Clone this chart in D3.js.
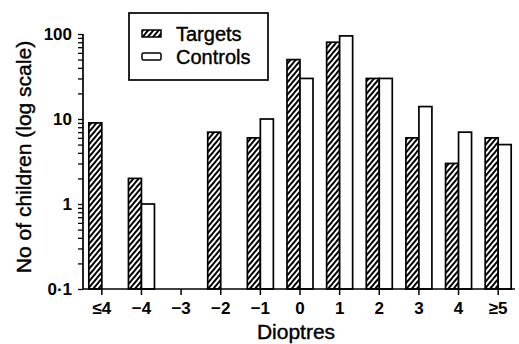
<!DOCTYPE html>
<html>
<head>
<meta charset="utf-8">
<script src="https://cdn.jsdelivr.net/npm/d3@7"></script>
<style>
  body { margin: 0; background: #fff; }
  svg { display: block; font-family: "Liberation Sans", Arial, Helvetica, sans-serif; }
</style>
</head>
<body>
<svg id="chart" width="519" height="344"></svg>
<script>
// refraction groups (dioptres)
var categories = ["≤4", "−4", "−3", "−2", "−1", "0", "1", "2", "3", "4", "≥5"];
var series = ["Targets", "Controls"];
// null = no bar drawn
var targets  = [9, 2, null, 7, 6, 50, 80, 30, 6, 3, 6];
var controls = [null, 1, null, null, 10, 30, 95, 30, 14, 7, 5];
var yMajor = [0.1, 1, 10, 100];
var yMajorLabels = ["0·1", "1", "10", "100"];

var svg = d3.select("#chart");

// hatch for targets
var defs = svg.append("defs");
defs.append("pattern")
    .attr("id", "hatch")
    .attr("patternUnits", "userSpaceOnUse")
    .attr("width", 4).attr("height", 4)
    .attr("patternTransform", "rotate(40)")
  .append("line")
    .attr("x1", 1).attr("y1", 0).attr("x2", 1).attr("y2", 4)
    .attr("stroke", "#000").attr("stroke-width", 2);

var x = d3.scaleBand().domain(categories).range([82, 518]).padding(0);
var y = d3.scaleLog().domain([0.1, 100]).range([289, 34]);
var barW = 13;

var fill = { Targets: "url(#hatch)", Controls: "#fff" };
var rows = [];
categories.forEach(function (c, i) {
  if (targets[i] != null) rows.push({ cat: c, s: "Targets", v: targets[i] });
  if (controls[i] != null) rows.push({ cat: c, s: "Controls", v: controls[i] });
});

svg.append("g").selectAll("rect")
    .data(rows)
  .enter().append("rect")
    .attr("x", function (d) {
      var mid = x(d.cat) + x.bandwidth() / 2;
      return d.s === "Targets" ? mid - barW : mid;
    })
    .attr("y", function (d) { return y(d.v); })
    .attr("width", barW)
    .attr("height", function (d) { return y(0.1) - y(d.v); })
    .attr("fill", function (d) { return fill[d.s]; })
    .attr("stroke", "#000")
    .attr("stroke-width", 1.7);

// y axis: all 1..9 ticks per decade, labels on powers of ten
var yTicks = [];
[0.1, 1, 10].forEach(function (p) {
  for (var k = 1; k < 10; k++) yTicks.push(+(p * k).toPrecision(3));
});
yTicks.push(100);

var yAxis = d3.axisLeft(y)
    .tickValues(yTicks)
    .tickSize(5)
    .tickPadding(6)
    .tickFormat(function (d) {
      var i = yMajor.indexOf(d);
      return i < 0 ? "" : yMajorLabels[i];
    });

var gy = svg.append("g").attr("transform", "translate(83,0)").call(yAxis);
gy.select(".domain").remove();
gy.append("line").attr("x1", 0).attr("x2", 0).attr("y1", y(0.1)).attr("y2", y(100))
    .attr("stroke", "#000").attr("stroke-width", 1.7);
gy.selectAll(".tick line").attr("stroke-width", 1.3);
gy.selectAll(".tick text")
    .attr("font-size", 17).attr("font-weight", "bold").attr("fill", "#000")
    .attr("font-family", "Liberation Sans, Arial, sans-serif");

// x axis
var xAxis = d3.axisBottom(x).tickSize(6).tickPadding(7).tickSizeOuter(0);
var gx = svg.append("g").attr("transform", "translate(0," + y(0.1) + ")").call(xAxis);
gx.select(".domain").remove();
gx.append("line").attr("x1", 83).attr("x2", 515).attr("y1", 0).attr("y2", 0)
    .attr("stroke", "#000").attr("stroke-width", 1.7);
gx.selectAll(".tick line").attr("stroke-width", 1.5);
gx.selectAll(".tick text")
    .attr("font-size", 17).attr("font-weight", "bold").attr("fill", "#000")
    .attr("font-family", "Liberation Sans, Arial, sans-serif");

// titles
svg.append("text")
    .attr("transform", "translate(31,157) rotate(-90)")
    .attr("text-anchor", "middle")
    .attr("font-size", 21)
    .attr("stroke", "#000").attr("stroke-width", 0.4)
    .text("No of children (log scale)");

svg.append("text")
    .attr("x", 296).attr("y", 339)
    .attr("text-anchor", "middle")
    .attr("font-size", 21)
    .attr("stroke", "#000").attr("stroke-width", 0.4)
    .text("Dioptres");

// legend
var lg = svg.append("g");
lg.append("rect").attr("x", 129).attr("y", 13).attr("width", 139).attr("height", 67)
    .attr("fill", "#fff").attr("stroke", "#000").attr("stroke-width", 1.7);
series.forEach(function (s, i) {
  var yy = 30 + i * 23;
  lg.append("rect").attr("x", 142).attr("y", yy).attr("width", 19).attr("height", 7)
      .attr("rx", s === "Controls" ? 1.5 : 0)
      .attr("fill", fill[s]).attr("stroke", "#000").attr("stroke-width", 1.5);
  lg.append("text").attr("x", 176).attr("y", yy + 11)
      .attr("font-size", 20)
      .attr("stroke", "#000").attr("stroke-width", 0.4)
      .text(s);
});
</script>
</body>
</html>
